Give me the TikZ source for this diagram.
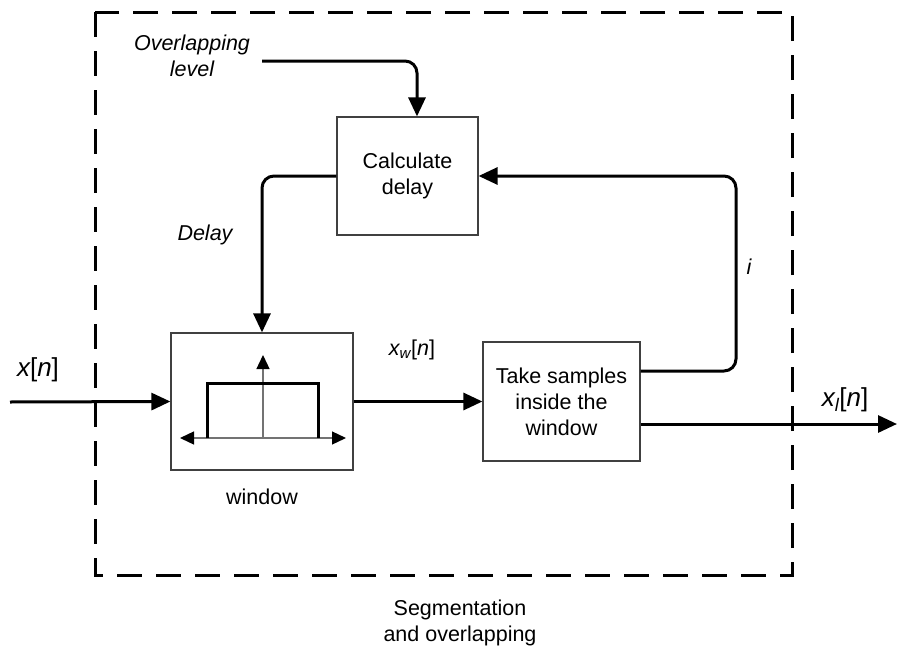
\documentclass[tikz,border=0pt]{standalone}
\usepackage{fontspec}
\setmainfont{Liberation Sans}
\usetikzlibrary{arrows.meta,calc}
\begin{document}
\begin{tikzpicture}[x=1pt,y=-1pt,
  every node/.style={font=\fontsize{21.5}{26}\selectfont, inner sep=0pt},
  blk/.style={draw=black!75, line width=1.2pt, fill=white, align=center},
  arr/.style={line width=3pt, -{Triangle[length=19pt,width=17pt]}},
  smallhead/.style={Triangle[length=14pt,width=13pt,color=black]},
  thinline/.style={draw=black!55, line width=1.3pt},
  frame/.style={line width=3pt, dash pattern=on 25pt off 14pt},
  lbl/.style={align=center},
  sig/.style={font=\fontsize{26}{30}\selectfont}]
\useasboundingbox (0,0) rectangle (897,653);

% enclosing block
\draw[frame] (95,12) rectangle (792,575);

% processing blocks
\node[blk, minimum width=141pt, minimum height=118pt] (calc) at (407.5,176) {Calculate\\delay};
\node[blk, minimum width=182pt, minimum height=137pt] (win) at (262,401.5) {};
\node[blk, minimum width=157pt, minimum height=119pt] (ts) at (561.5,401.5) {Take samples\\inside the\\window};

% rectangular window sketch
\draw[thinline, {Triangle[length=14pt,width=13pt,color=black]}-{Triangle[length=14pt,width=13pt,color=black]}] (180,438) -- (346,438);
\draw[thinline, -{Triangle[length=14pt,width=13pt,color=black]}] (263,438) -- (263,355);
\draw[line width=3pt] (207,438) -- (207,383) -- (318,383) -- (318,438);

% free ends of connectors
\coordinate (in) at (10,402);
\coordinate (out) at (897,424);
\coordinate (fb) at (736,371);
\coordinate (ov) at (262,61);

% connectors
\draw[arr] (in) -- (win.west);
\draw[arr] (win.east) -- (ts.west);
\draw[arr] (ts.east |- out) -- (out);
\draw[arr, rounded corners=12pt] (ts.east |- fb) -- (fb) |- (calc.east);
\draw[arr, rounded corners=12pt] (calc.west) -| (win.north);
\draw[arr, rounded corners=12pt] (ov) -| ([xshift=9.5pt]calc.north);

% labels
\node[lbl] (lov) at (192,56) {\itshape Overlapping\\\itshape level};
\node (ldelay) at (205,235) {\itshape Delay};
\node (li) at (749,267) {\itshape i};
\node[sig] (lx) at (38,370) {\itshape x\upshape[\itshape n\upshape]};
\node (lxw) at (412,350) {\itshape x\textsubscript{\itshape w}\upshape[\itshape n\upshape]};
\node[sig] (lxl) at (845,400) {\itshape x\textsubscript{\itshape l}\upshape[\itshape n\upshape]};
\node (lwin) at (262,497) {window};
\node[lbl] (lseg) at (460,623) {Segmentation\\and overlapping};
\end{tikzpicture}
\end{document}
